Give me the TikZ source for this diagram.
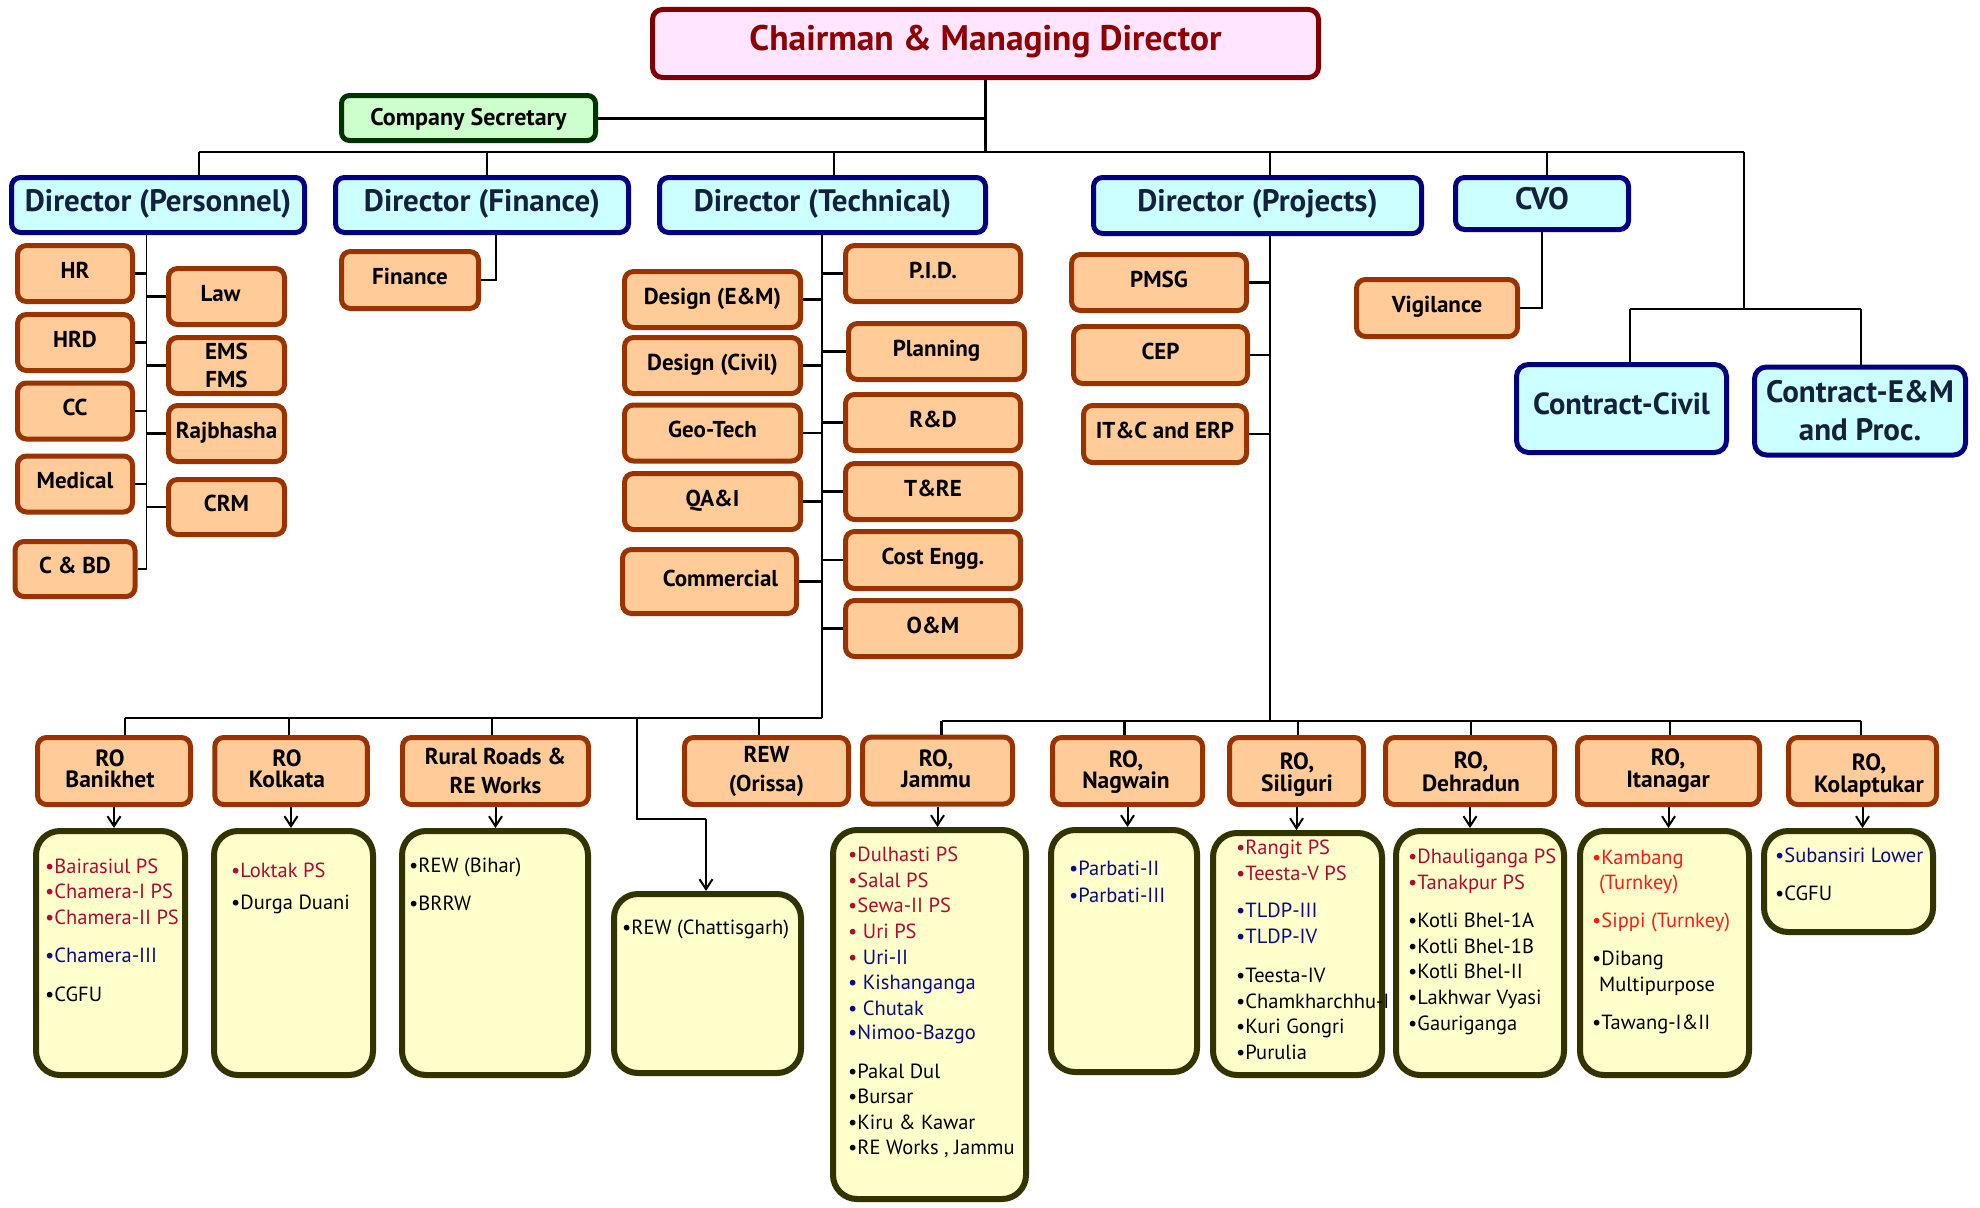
\documentclass[tikz,border=0pt]{standalone}
\usepackage{fontspec}
\setmainfont{PT Sans}
\usetikzlibrary{arrows.meta}
\definecolor{chairB}{HTML}{800000}
\definecolor{chairF}{HTML}{FFE5FF}
\definecolor{chairT}{HTML}{8E0000}
\definecolor{secB}{HTML}{003300}
\definecolor{secF}{HTML}{CCFFCC}
\definecolor{dirB}{HTML}{000080}
\definecolor{dirF}{HTML}{CCFFFF}
\definecolor{dirT}{HTML}{13213C}
\definecolor{oB}{HTML}{993300}
\definecolor{oF}{HTML}{FFCC99}
\definecolor{lB}{HTML}{333300}
\definecolor{lF}{HTML}{FFFFCC}
\definecolor{crim}{HTML}{B00A32}
\definecolor{bred}{HTML}{FF1A1A}
\definecolor{navy}{HTML}{0A0A80}
\newcommand\myfs[2]{\fontsize{#1}{#2}\selectfont}
\newcommand\itm[5]{\node[itemtxt, text=#4] (#1) at (#2,#3) {#5};}
\newcommand\rotxt[6]{%
  \node[rolabel, yshift={#5*0.5pt}] (#1a) at (#2,#3) {#4};
  \node[rolabel, yshift={-#5*0.5pt}] (#1b) at (#2,#3) {#6};}
\begin{document}
\begin{tikzpicture}[x=1pt,y=-1pt,
  chairbox/.style={draw=chairB, fill=chairF, line width=5pt, rounded corners=10pt, text=chairT, inner sep=0pt, font=\bfseries\myfs{35.5}{42}, text height=25pt, text depth=10pt},
  secbox/.style={draw=secB, fill=secF, line width=5pt, rounded corners=8pt, inner sep=0pt, font=\bfseries\myfs{24}{28}, text height=16.8pt, text depth=2pt},
  dirbox/.style={draw=dirB, fill=dirF, line width=5pt, rounded corners=9pt, text=dirT, inner sep=0pt, font=\bfseries\myfs{31}{36}, text height=21.7pt, text depth=9pt},
  conbox/.style={draw=dirB, fill=dirF, line width=5pt, rounded corners=12pt, text=dirT, inner sep=0pt, align=center},
  obox/.style={draw=oB, fill=oF, line width=5pt, rounded corners=9pt, inner sep=0pt, align=center, font=\bfseries\myfs{23}{29}},
  o1/.style={obox, text height=16.1pt, text depth=7pt},
  lbox/.style={draw=lB, fill=lF, line width=6pt, rounded corners=24pt, inner sep=0pt},
  itemtxt/.style={anchor=west, inner sep=0pt, font=\myfs{20.5}{24}, text height=14.3pt, text depth=0pt},
  rolabel/.style={inner sep=0pt, font=\bfseries\myfs{23.5}{27}, text height=16.4pt, text depth=0pt},
  conn/.style={line width=2.2pt},
  thin/.style={line width=1.4pt},
  arr/.style={line width=2pt, -{Straight Barb[length=10pt,width=13pt,line width=2pt]}}
]
\useasboundingbox (0,0) rectangle (1980,1207);

% ---------- top level ----------
\node[chairbox, minimum width=666, minimum height=68] (chair) at (985.5,43.5) {Chairman \& Managing Director};
\node[secbox, minimum width=254, minimum height=45] (sec) at (468.5,118) {Company Secretary};

\node[dirbox, minimum width=293, minimum height=55] (dpers) at (158,205) {Director (Personnel)};
\node[dirbox, minimum width=293, minimum height=55] (dfin) at (482,205) {Director (Finance)};
\node[dirbox, minimum width=326, minimum height=55] (dtech) at (822.5,205) {Director (Technical)};
\node[dirbox, minimum width=328, minimum height=56] (dproj) at (1257.5,205.5) {Director (Projects)};
\node[dirbox, minimum width=173, minimum height=52] (cvo) at (1542,203.5) {CVO};

\node[conbox, minimum width=210, minimum height=88, font=\bfseries\myfs{30.5}{36}, text height=21.4pt, text depth=9pt] (ccivil) at (1621.5,408.5) {Contract-Civil};
\node[conbox, minimum width=211, minimum height=88, font=\bfseries\myfs{31}{38}] (cem) at (1860,411) {Contract-E\&M\\and Proc.};

% ---------- Personnel ----------
\node[o1, minimum width=115, minimum height=56] (hr) at (75,273.5) {HR};
\node[o1, minimum width=115, minimum height=56] (hrd) at (75,342.5) {HRD};
\node[o1, minimum width=115, minimum height=56] (cc) at (75,411) {CC};
\node[o1, minimum width=115, minimum height=56] (med) at (75,484) {Medical};
\node[o1, minimum width=120, minimum height=55] (cbd) at (75,569) {C \& BD};
\node[o1, minimum width=116, minimum height=56] (law) at (226.5,296.5) {Law\hspace*{12pt}};
\node[obox, minimum width=116, minimum height=56, font=\bfseries\myfs{23}{28}] (ems) at (226.5,365.5) {EMS\\FMS};
\node[o1, minimum width=116, minimum height=56] (raj) at (226.5,433.5) {Rajbhasha};
\node[o1, minimum width=116, minimum height=55] (crm) at (226.5,507) {CRM};

% ---------- Finance ----------
\node[o1, minimum width=137, minimum height=57] (fin) at (410,280) {Finance};

% ---------- Technical ----------
\node[o1, minimum width=176, minimum height=56] (desem) at (712.5,299.5) {Design (E\&M)};
\node[o1, minimum width=176, minimum height=56] (desciv) at (712.5,365.5) {Design (Civil)};
\node[o1, minimum width=176, minimum height=56] (geo) at (712.5,433) {Geo-Tech};
\node[o1, minimum width=176, minimum height=56] (qai) at (712.5,501.5) {QA\&I};
\node[o1, minimum width=174, minimum height=64] (comm) at (709.5,581.5) {\hspace*{22pt}Commercial};
\node[o1, minimum width=175, minimum height=56] (pid) at (933,273.5) {P.I.D.};
\node[o1, minimum width=176, minimum height=56] (plan) at (936.5,351.5) {Planning};
\node[o1, minimum width=175, minimum height=56] (rnd) at (933,422.5) {R\&D};
\node[o1, minimum width=175, minimum height=56] (tre) at (933,491.5) {T\&RE};
\node[o1, minimum width=175, minimum height=57] (cost) at (933,560) {Cost Engg.};
\node[o1, minimum width=175, minimum height=56] (om) at (933,628.5) {O\&M};

% ---------- Projects ----------
\node[o1, minimum width=175, minimum height=56] (pmsg) at (1159,282.5) {PMSG};
\node[o1, minimum width=174, minimum height=57] (cep) at (1160.5,355) {CEP};
\node[o1, minimum width=163, minimum height=57] (itc) at (1165,434) {IT\&C and ERP};

% ---------- CVO ----------
\node[o1, minimum width=161, minimum height=57] (vig) at (1437,308) {Vigilance};

% ---------- Regional offices ----------
\node[obox, minimum width=153, minimum height=67] (ban) at (114,771) {};
\node[obox, minimum width=152.5, minimum height=67] (kol) at (291,771) {};
\node[obox, minimum width=186, minimum height=67] (rur) at (495.5,771) {Rural Roads \&\\RE Works};
\node[obox, minimum width=164, minimum height=67] (ori) at (766.5,771) {REW\\(Orissa)};
\node[obox, minimum width=150, minimum height=67] (jam) at (937.5,770.5) {};
\node[obox, minimum width=150, minimum height=67] (nag) at (1127.5,771) {};
\node[obox, minimum width=134, minimum height=67] (sil) at (1296.5,771) {};
\node[obox, minimum width=169, minimum height=67] (deh) at (1470,771) {};
\node[obox, minimum width=182, minimum height=67] (ita) at (1668.5,771) {};
\node[obox, minimum width=148, minimum height=67] (kop) at (1862.5,771) {};

\rotxt{banT}{110}{769}{RO}{21}{Banikhet}
\rotxt{kolT}{287}{769}{RO}{21}{Kolkata}
\rotxt{jamT}{936}{769}{RO,}{21}{Jammu}
\rotxt{nagT}{1126}{770}{RO,}{21}{Nagwain}
\rotxt{silT}{1297}{772.5}{RO,}{22}{Siliguri}
\rotxt{dehT}{1471}{771.5}{RO,}{23}{Dehradun}
\rotxt{itaT}{1668}{768.5}{RO,}{22}{Itanagar}
\rotxt{kopT}{1869}{773}{RO,}{22}{Kolaptukar}

% ---------- list boxes ----------
\node[lbox, minimum width=149, minimum height=244] (banL) at (110.5,953) {};
\node[lbox, minimum width=159, minimum height=244] (kolL) at (293.5,953) {};
\node[lbox, minimum width=186, minimum height=244] (rurL) at (495,953) {};
\node[lbox, minimum width=187, minimum height=179] (chaL) at (707.5,983.5) {};
\node[lbox, minimum width=193, minimum height=369] (jamL) at (929.5,1014.5) {};
\node[lbox, minimum width=146, minimum height=242] (nagL) at (1124,951) {};
\node[lbox, minimum width=169, minimum height=242] (silL) at (1297.5,954) {};
\node[lbox, minimum width=168, minimum height=244] (dehL) at (1480,953) {};
\node[lbox, minimum width=169, minimum height=244] (itaL) at (1664.5,953) {};
\node[lbox, minimum width=169, minimum height=101] (kopL) at (1848.5,881.5) {};

% ---------- list items ----------
\itm{b1}{45}{866}{crim}{•Bairasiul PS}
\itm{b2}{45}{891}{crim}{•Chamera-I PS}
\itm{b3}{45}{917}{crim}{•Chamera-II PS}
\itm{b4}{45}{955}{navy}{•Chamera-III}
\itm{b5}{45}{994}{black}{•CGFU}
\itm{k1}{231}{870}{crim}{•Loktak PS}
\itm{k2}{231}{902}{black}{•Durga Duani}
\itm{r1}{409}{865}{black}{•REW (Bihar)}
\itm{r2}{409}{903}{black}{•BRRW}
\itm{c1}{622}{927}{black}{•REW (Chattisgarh)}
\itm{j1}{848}{854}{crim}{•Dulhasti PS}
\itm{j2}{848}{880}{crim}{•Salal PS}
\itm{j3}{848}{905}{crim}{•Sewa-II PS}
\itm{j4}{848}{931}{crim}{• Uri PS}
\itm{j5}{848}{957}{crim}{• \textcolor{navy}{Uri-II}}
\itm{j6}{848}{982}{navy}{• Kishanganga}
\itm{j7}{848}{1008}{navy}{• Chutak}
\itm{j8}{848}{1032}{navy}{•Nimoo-Bazgo}
\itm{j9}{848}{1071}{black}{•Pakal Dul}
\itm{j10}{848}{1096}{black}{•Bursar}
\itm{j11}{848}{1122}{black}{•Kiru \& Kawar}
\itm{j12}{848}{1147}{black}{•RE Works , Jammu}
\itm{n1}{1069}{868}{navy}{•Parbati-II}
\itm{n2}{1069}{895}{navy}{•Parbati-III}
\itm{s1}{1236}{847}{crim}{•Rangit PS}
\itm{s2}{1236}{873}{crim}{•Teesta-V PS}
\itm{s3}{1236}{910}{navy}{•TLDP-III}
\itm{s4}{1236}{936}{navy}{•TLDP-IV}
\itm{s5}{1236}{975}{black}{•Teesta-IV}
\itm{s6}{1236}{1001}{black}{•Chamkharchhu-I}
\itm{s7}{1236}{1026}{black}{•Kuri Gongri}
\itm{s8}{1236}{1052}{black}{•Purulia}
\itm{d1}{1408}{856}{crim}{•Dhauliganga PS}
\itm{d2}{1408}{882}{crim}{•Tanakpur PS}
\itm{d3}{1408}{920}{black}{•Kotli Bhel-1A}
\itm{d4}{1408}{946}{black}{•Kotli Bhel-1B}
\itm{d5}{1408}{971}{black}{•Kotli Bhel-II}
\itm{d6}{1408}{997}{black}{•Lakhwar Vyasi}
\itm{d7}{1408}{1023}{black}{•Gauriganga}
\itm{t1}{1592}{857}{bred}{•Kambang}
\itm{t2}{1599}{882}{bred}{(Turnkey)}
\itm{t3}{1592}{920}{bred}{•Sippi (Turnkey)}
\itm{t4}{1592}{958}{black}{•Dibang}
\itm{t5}{1599}{984}{black}{Multipurpose}
\itm{t6}{1592}{1022}{black}{•Tawang-I\&II}
\itm{p1}{1775}{855}{navy}{•Subansiri Lower}
\itm{p2}{1775}{893}{black}{•CGFU}

% ---------- connectors: top ----------
\coordinate (bL) at (199,152);
\coordinate (bR) at (1744,152);
\coordinate (tF) at (487,152);
\coordinate (tT) at (834,152);
\coordinate (tP) at (1270,152);
\coordinate (tC) at (1547,152);
\draw[conn] (chair.south) -- (chair.south |- bL);
\draw[line width=3pt] (sec.east) -- (sec.east -| chair.south);
\draw[conn] (bL) -- (bR);
\draw[thin] (bL) -- (bL |- dpers.north);
\draw[thin] (tF) -- (tF |- dfin.north);
\draw[thin] (tT) -- (tT |- dtech.north);
\draw[thin] (tP) -- (tP |- dproj.north);
\draw[thin] (tC) -- (tC |- cvo.north);

% contracts
\coordinate (cj) at (1744,309);
\coordinate (cjL) at (1630,309);
\coordinate (cjR) at (1861,309);
\draw[thin] (bR) -- (cj);
\draw[thin] (cjL) -- (cjR);
\draw[thin] (cjL) -- (cjL |- ccivil.north);
\draw[thin] (cjR) -- (cjR |- cem.north);

% personnel
\coordinate (pv) at (146.5,0);
\draw[thin] (pv |- dpers.south) -- (pv |- cbd.east);
\foreach \b in {hr,hrd,cc,med,cbd}{\draw[conn] (\b.east) -- (\b.east -| pv);}
\foreach \b in {law,ems,raj,crm}{\draw[conn] (\b.west) -- (\b.west -| pv);}

% finance
\coordinate (fv) at (496,0);
\draw[conn] (fin.east) -| (fv |- dfin.south);

% technical
\coordinate (tv) at (822,0);
\coordinate (rbL) at (125,718);
\coordinate (rbE) at (822,718);
\draw[conn] (tv |- dtech.south) -- (rbE);
\foreach \b in {desem,desciv,geo,qai,comm}{\draw[conn] (\b.east) -- (\b.east -| tv);}
\foreach \b in {pid,plan,rnd,tre,cost,om}{\draw[conn] (\b.west) -- (\b.west -| tv);}

% projects
\coordinate (pjv) at (1270,0);
\coordinate (rbR1) at (941.5,721);
\coordinate (rbR2) at (1861,721);
\draw[conn] (pjv |- dproj.south) -- (pjv |- rbR1);
\foreach \b in {pmsg,cep,itc}{\draw[conn] (\b.east) -- (\b.east -| pjv);}

% cvo
\draw[thin] (vig.east) -| (cvo.south);

% RO bus left
\coordinate (xK) at (289,718);
\coordinate (xR) at (492,718);
\coordinate (xC) at (637,718);
\coordinate (xO) at (759,718);
\coordinate (xC2) at (637,819);
\coordinate (xC3) at (706,819);
\draw[conn] (rbL) -- (rbE);
\draw[conn] (rbL) -- (rbL |- ban.north);
\draw[conn] (xK) -- (xK |- kol.north);
\draw[conn] (xR) -- (xR |- rur.north);
\draw[conn] (xO) -- (xO |- ori.north);
\draw[thin] (xC) -- (xC2) -- (xC3);
\draw[arr] (xC3) -- (xC3 |- chaL.north);

% RO bus right
\coordinate (yN) at (1124.5,721);
\coordinate (yS) at (1298,721);
\coordinate (yD) at (1471,721);
\coordinate (yI) at (1670,721);
\draw[conn] (rbR1) -- (rbR2);
\draw[conn] (rbR1) -- (rbR1 |- jam.north);
\draw[conn] (yN) -- (yN |- nag.north);
\draw[conn] (yS) -- (yS |- sil.north);
\draw[conn] (yD) -- (yD |- deh.north);
\draw[conn] (yI) -- (yI |- ita.north);
\draw[conn] (rbR2) -- (rbR2 |- kop.north);

% arrows RO -> lists
\foreach \a/\b in {ban/banL,kol/kolL,rur/rurL,jam/jamL,nag/nagL,sil/silL,deh/dehL,ita/itaL,kop/kopL}{
  \draw[arr] (\a.south) -- (\a.south |- \b.north);
}
\end{tikzpicture}
\end{document}
